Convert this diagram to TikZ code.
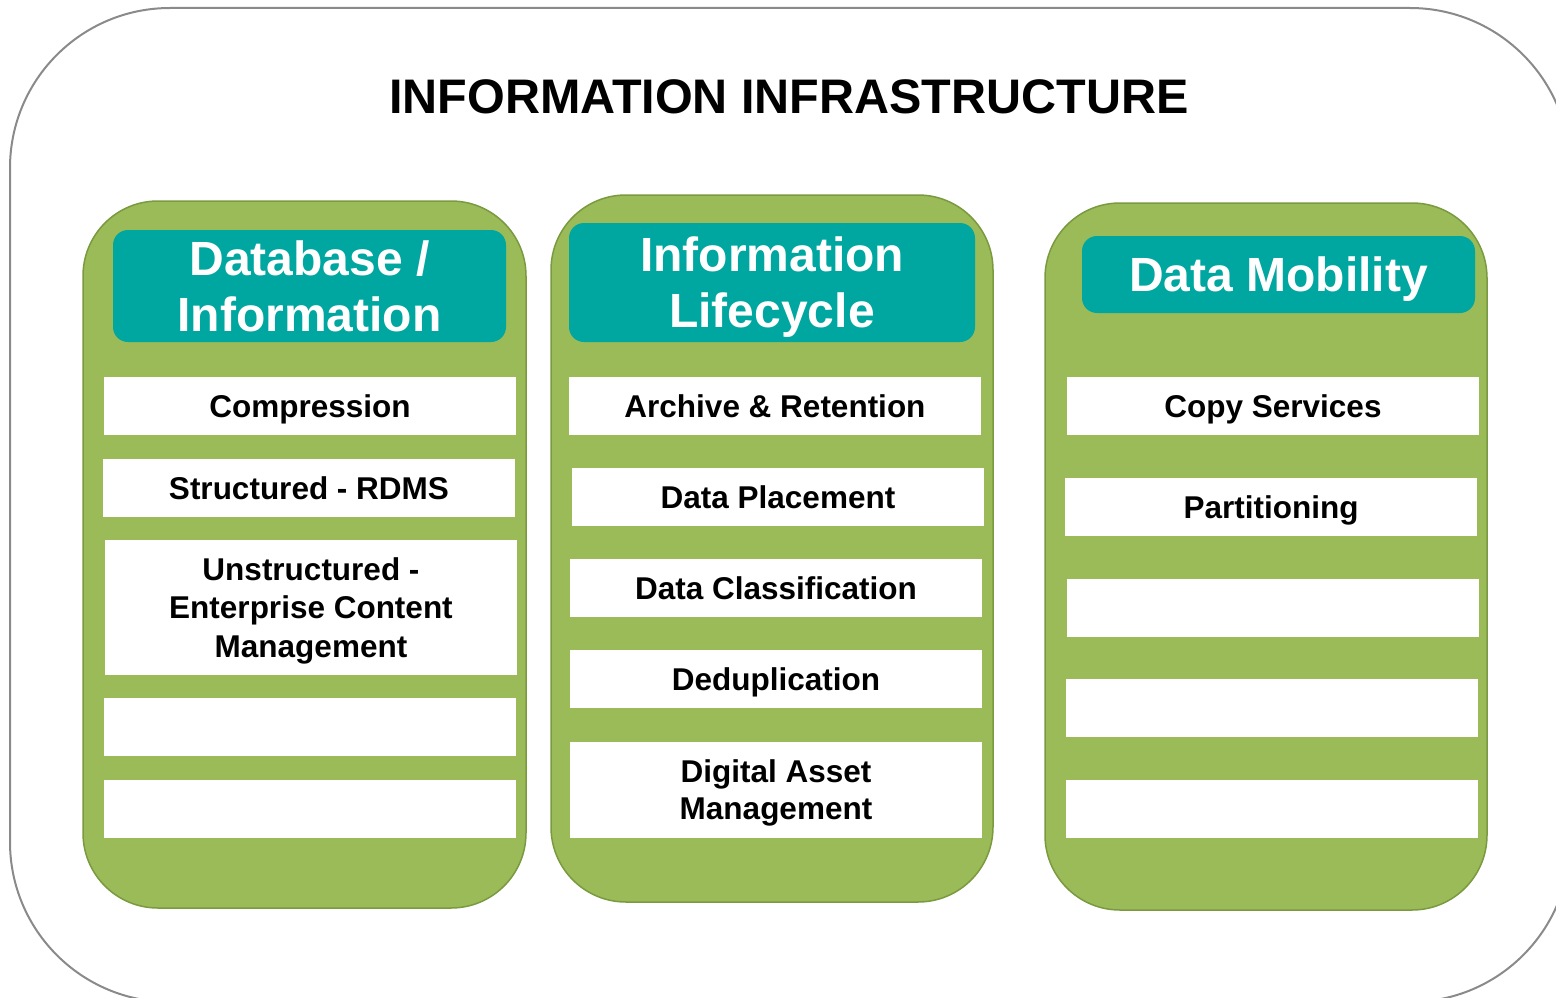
\documentclass[tikz,border=0pt]{standalone}
\usepackage{fontspec}
\setmainfont{Liberation Sans}
\definecolor{panelgreen}{HTML}{9BBB59}
\definecolor{panelborder}{HTML}{7A9A40}
\definecolor{headteal}{HTML}{00A7A0}
\definecolor{outergray}{HTML}{8A8A8A}
\begin{document}
\begin{tikzpicture}[x=1pt,y=-1pt,
  panel/.style={fill=panelgreen,draw=panelborder,line width=1.5pt,rounded corners=75pt,inner sep=0pt},
  header/.style={fill=headteal,draw=none,rounded corners=15pt,inner sep=0pt,text=white,align=center,
    text depth=0pt,font=\fontsize{48}{56}\selectfont\bfseries},
  item/.style={fill=white,draw=none,inner sep=0pt,minimum width=412pt,align=center,text depth=0pt,
    font=\fontsize{31.5}{38.5}\selectfont\bfseries},
]
\useasboundingbox (0,0) rectangle (1556,998);
% outer frame
\draw[outergray,line width=2pt,rounded corners=160pt] (10,8) rectangle (1570,1002);
\node[font=\fontsize{48.5}{56}\selectfont\bfseries] (title) at (789,97) {INFORMATION INFRASTRUCTURE};

% panels
\node[panel,minimum width=443pt,minimum height=707pt] (p1) at (304.5,554.5) {};
\node[panel,minimum width=442pt,minimum height=707pt] (p2) at (772,548.5) {};
\node[panel,minimum width=442pt,minimum height=707pt] (p3) at (1266,556.5) {};

% headers
\node[header,minimum width=393pt,minimum height=112pt] (h1) at (309.5,286) {Database /\\Information};
\node[header,minimum width=406pt,minimum height=119pt] (h2) at (772,282.5) {Information\\Lifecycle};
\node[header,minimum width=393pt,minimum height=77pt] (h3) at (1278.5,274.5) {Data Mobility};

% column 1
\node[item,minimum height=58pt] (a1) at (310,406) {Compression};
\node[item,minimum height=58pt] (a2) at (309,488) {Structured - RDMS};
\node[item,minimum height=135pt] (a3) at (311,607.5) {Unstructured -\\Enterprise Content\\Management};
\node[item,minimum height=58pt] (a4) at (310,727) {};
\node[item,minimum height=58pt] (a5) at (310,809) {};

% column 2
\node[item,minimum height=58pt] (b1) at (775,406) {Archive \& Retention};
\node[item,minimum height=58pt] (b2) at (778,497) {Data Placement};
\node[item,minimum height=58pt] (b3) at (776,588) {Data Classification};
\node[item,minimum height=58pt] (b4) at (776,679) {Deduplication};
\node[item,minimum height=96pt,font=\fontsize{31.5}{37}\selectfont\bfseries] (b5) at (776,790) {Digital Asset\\Management};

% column 3
\node[item,minimum height=58pt] (c1) at (1273,406) {Copy Services};
\node[item,minimum height=58pt] (c2) at (1271,507) {Partitioning};
\node[item,minimum height=58pt] (c3) at (1273,608) {};
\node[item,minimum height=58pt] (c4) at (1272,708) {};
\node[item,minimum height=58pt] (c5) at (1272,809) {};
\end{tikzpicture}
\end{document}
